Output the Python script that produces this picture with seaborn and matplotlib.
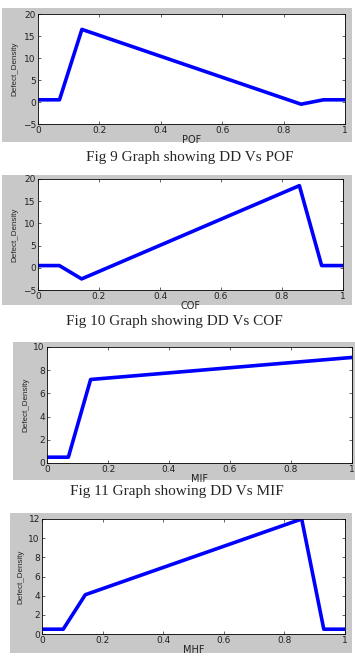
import matplotlib
matplotlib.use("Agg")
import matplotlib.pyplot as plt
from matplotlib.patches import Rectangle
import seaborn as sns
import pandas as pd

# data
pof_x = [0, 0.07, 0.143, 0.857, 0.93, 1.0]
pof_dd = [0.5, 0.5, 16.5, -0.5, 0.5, 0.5]

cof_x = [0, 0.07, 0.143, 0.857, 0.93, 1.0]
cof_dd = [0.5, 0.5, -2.5, 18.5, 0.5, 0.5]

mif_x = [0, 0.07, 0.143, 1.0]
mif_dd = [0.5, 0.5, 7.2, 9.1]

mhf_x = [0, 0.07, 0.143, 0.857, 0.93, 1.0]
mhf_dd = [0.5, 0.5, 4.1, 12.0, 0.5, 0.5]

captions = ["Fig 9 Graph showing DD Vs POF",
            "Fig 10 Graph showing DD Vs COF",
            "Fig 11 Graph showing DD Vs MIF"]

W, H = 355, 663
sns.set_style("ticks")
plt.rcParams['font.family'] = ['DejaVu Sans']

fig = plt.figure(figsize=(W / 100, H / 100), dpi=100)


def box(x0, y0, x1, y1):
    # pixel box -> figure fraction
    return [x0 / W, 1 - y1 / H, (x1 - x0) / W, (y1 - y0) / H]


panels = [
    # grey frame, axes box, x, y, xlabel, ylim, yticks
    ((2, 8, 352, 142), (38, 14, 345, 124), pof_x, pof_dd, "POF", (-5, 20), range(-5, 21, 5)),
    ((2, 175, 352, 305), (38, 179, 343, 290), cof_x, cof_dd, "COF", (-5, 20), range(-5, 21, 5)),
    ((13, 342, 355, 480), (47, 347, 352, 463), mif_x, mif_dd, "MIF", (0, 10), range(0, 11, 2)),
    ((10, 513, 352, 653), (42, 519, 345, 634), mhf_x, mhf_dd, "MHF", (0, 12), range(0, 13, 2)),
]

for frame, axbox, xs, ys, xlab, ylim, yticks in panels:
    fx = box(*frame)
    fig.patches.append(Rectangle((fx[0], fx[1]), fx[2], fx[3], transform=fig.transFigure,
                                 facecolor="#c8c8c8", edgecolor="none", zorder=-10))
    ax = fig.add_axes(box(*axbox))
    ax.set_facecolor("white")
    df = pd.DataFrame({"x": xs, "dd": ys})
    sns.lineplot(data=df, x="x", y="dd", ax=ax, color="#0000ff", linewidth=2.6, sort=False)
    ax.set_xlim(0, 1)
    ax.set_ylim(*ylim)
    ax.set_xticks([0, 0.2, 0.4, 0.6, 0.8, 1.0])
    ax.set_xticklabels(["0", "0.2", "0.4", "0.6", "0.8", "1"])
    ax.set_yticks(list(yticks))
    ax.tick_params(direction="in", length=2, width=0.5, labelsize=6.5, pad=1.5,
                   top=True, right=True, labelcolor="#222222")
    for s in ax.spines.values():
        s.set_linewidth(0.6)
        s.set_color("black")
    ax.set_xlabel(xlab, fontsize=7, labelpad=0, color="#222222")
    ax.set_ylabel("Defect_Density", fontsize=5.8, labelpad=3,
                  family=["Liberation Sans Narrow", "Liberation Sans", "DejaVu Sans"])

cap_pos = [(190, 157), (174, 321), (177, 492)]
for (cx, cy), txt in zip(cap_pos, captions):
    fig.text(cx / W, 1 - cy / H, txt, ha="center", va="center", fontsize=11,
             family=["Liberation Serif", "DejaVu Serif"])

fig.savefig("out.png", dpi=100)
